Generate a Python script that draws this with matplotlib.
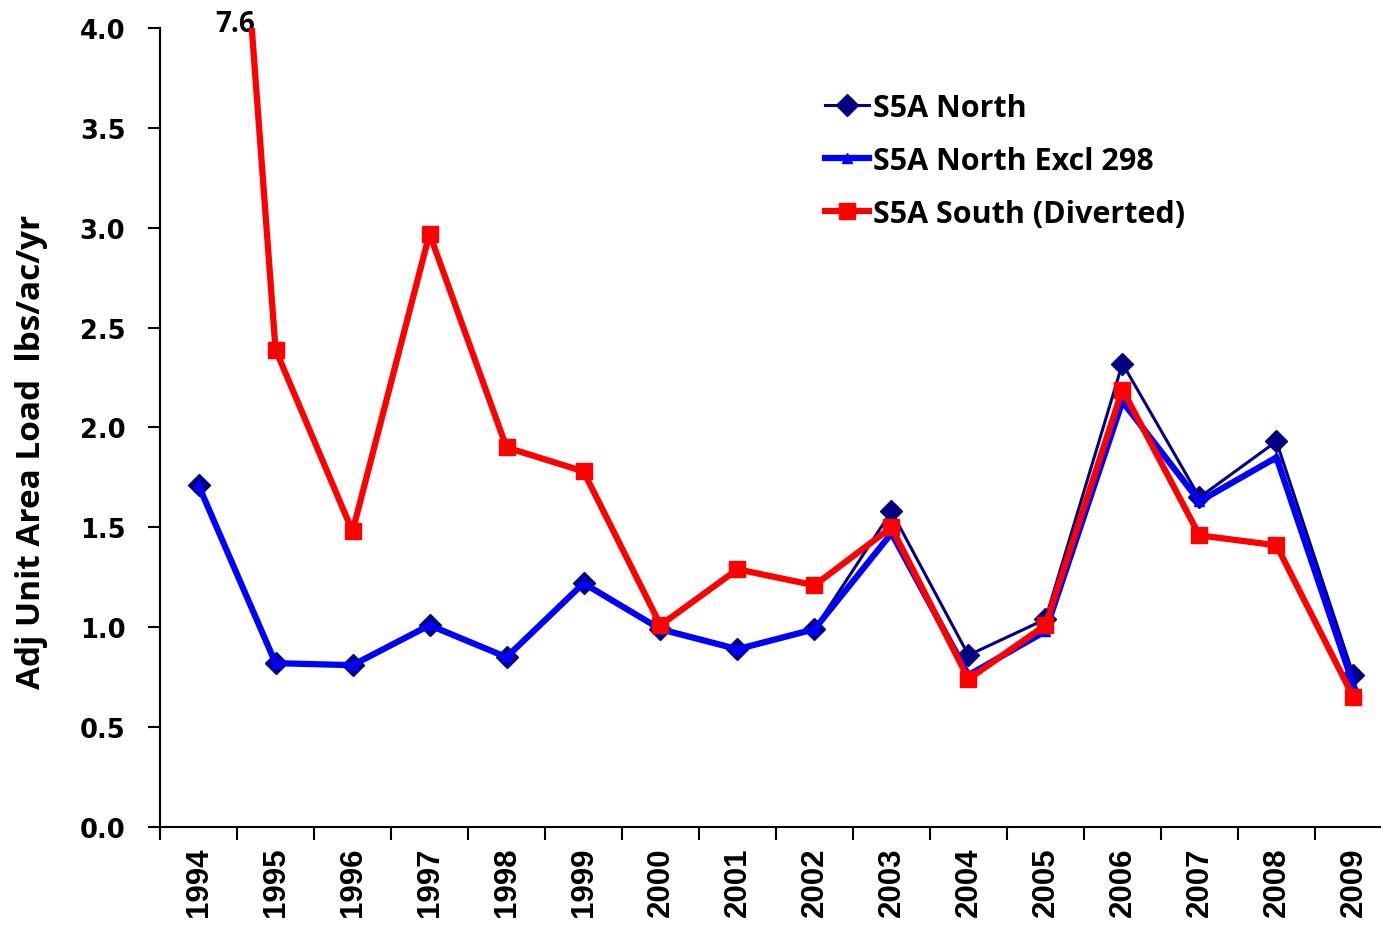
import matplotlib
matplotlib.use('Agg')
import matplotlib.pyplot as plt
import numpy as np

years = ['1994', '1995', '1996', '1997', '1998', '1999', '2000', '2001',
         '2002', '2003', '2004', '2005', '2006', '2007', '2008', '2009']
north = [1.71, 0.82, 0.81, 1.01, 0.85, 1.22, 0.99, 0.89,
         0.99, 1.58, 0.86, 1.04, 2.32, 1.65, 1.93, 0.76]
north_excl = [1.71, 0.82, 0.81, 1.01, 0.85, 1.22, 0.99, 0.89,
              0.99, 1.47, 0.76, 0.98, 2.13, 1.63, 1.85, 0.71]
south = [7.6, 2.39, 1.48, 2.97, 1.90, 1.78, 1.01, 1.29,
         1.21, 1.50, 0.74, 1.01, 2.19, 1.46, 1.41, 0.65]

fig = plt.figure(figsize=(13.81, 9.28), dpi=100)
ax = fig.add_axes([0.1159, 0.1078, 0.892, 0.861])
x = np.arange(len(years))

ax.plot(x, north, color='#000080', lw=2.2, marker='D', ms=11, label='S5A North', zorder=3)
ax.plot(x, north_excl, color='#0000FF', lw=4.5, marker='^', ms=7, label='S5A North Excl 298', zorder=4)
ax.plot(x, south, color='#FF0000', lw=4.5, marker='s', ms=11, label='S5A South (Diverted)', zorder=5)

# 1994 south value is off the scale
ax.text(0.73, 4.02, '7.6', ha='right', va='center', fontsize=20, family='Open Sans', weight='bold')

ax.set_xlim(-0.5, len(years) - 0.5)
ax.set_ylim(0, 4.0)
yt = np.arange(0, 4.01, 0.5)
ax.set_yticks(yt)
ax.set_yticklabels(['%.1f' % v for v in yt], fontsize=18.5, family='DejaVu Sans', weight='bold')
ax.set_xticks(x)
ax.set_xticklabels(years, rotation=90, fontsize=22.5, family='Liberation Sans', weight='bold')
ax.set_xticks(np.arange(-0.5, len(years)), minor=True)
ax.tick_params(axis='x', which='major', length=0, pad=14)
ax.tick_params(axis='x', which='minor', length=9, width=1.5)
ax.tick_params(axis='y', length=9, width=1.5, pad=16)
for s in ['top', 'right']:
    ax.spines[s].set_visible(False)
for s in ['left', 'bottom']:
    ax.spines[s].set_linewidth(1.5)

ax.set_ylabel('Adj Unit Area Load  lbs/ac/yr', fontsize=24, family='Open Sans', weight='bold')
ax.yaxis.set_label_coords(-0.0909, 0.4706)

ax.legend(loc='upper left', bbox_to_anchor=(0.586, 0.915), bbox_transform=fig.transFigure,
          frameon=False, prop={'family': 'Open Sans', 'size': 22, 'weight': 'bold'},
          handlelength=1.47, handletextpad=0.1, labelspacing=0.75, borderpad=0)

fig.savefig('out.png', dpi=100)
